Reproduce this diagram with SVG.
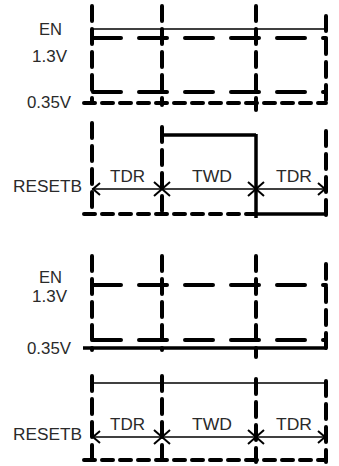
<svg xmlns="http://www.w3.org/2000/svg" width="339" height="466" viewBox="0 0 339 466">
<style>
.lbl{font-family:"Liberation Sans",Arial,sans-serif;font-size:16px;fill:#2a2a2a}
.v{stroke:#000;stroke-width:4;stroke-dasharray:15,8;stroke-linecap:round;fill:none}
.hl{stroke:#000;stroke-width:4;stroke-dasharray:28,18;stroke-linecap:round;fill:none}
.hs{stroke:#000;stroke-width:4;stroke-dasharray:11,7;stroke-linecap:round;fill:none}
.thin{stroke:#000;stroke-width:1.3;fill:none}
.solid{stroke:#000;stroke-width:3.5;fill:none}
.ah{stroke:#000;stroke-width:2;fill:none}
</style>
<rect width="339" height="466" fill="#fff"/>
<g id="connectors">
<!-- Panel 1 -->
<line class="v" x1="92" y1="6" x2="92" y2="103"/>
<line class="v" x1="162" y1="6" x2="162" y2="105"/>
<line class="v" x1="256" y1="6" x2="256" y2="110"/>
<line class="v" x1="326" y1="16" x2="326" y2="103"/>
<line class="thin" x1="92" y1="29" x2="326" y2="29" stroke-width="1.6"/>
<line class="hl" x1="93" y1="38" x2="326" y2="38"/>
<line class="hl" x1="93" y1="92" x2="326" y2="92"/>
<line class="hs" x1="84" y1="103" x2="326" y2="103"/>
<!-- Panel 2 -->
<line class="v" x1="92" y1="123" x2="92" y2="215"/>
<line class="v" x1="162" y1="127" x2="162" y2="215"/>
<line class="solid" x1="256" y1="134" x2="256" y2="218" stroke-width="3"/>
<line class="v" x1="326" y1="131" x2="326" y2="218"/>
<polyline class="solid" points="162,135 256,135" stroke-width="2.5"/>
<line class="hs" x1="84" y1="214" x2="256" y2="214"/>
<line class="solid" x1="256" y1="214" x2="327" y2="214"/>
<line class="thin" x1="92" y1="189" x2="326" y2="189"/>
<polyline class="ah" points="100,183 93,189 100,195"/>
<polyline class="ah" points="154,182 162,189 154,196"/>
<polyline class="ah" points="170,182 162,189 170,196"/>
<polyline class="ah" points="248,182 256,189 248,196"/>
<polyline class="ah" points="264,182 256,189 264,196"/>
<polyline class="ah" points="318,183 325,189 318,195"/>
<!-- Panel 3 -->
<line class="v" x1="92" y1="256" x2="92" y2="350"/>
<line class="v" x1="162" y1="256" x2="162" y2="350"/>
<line class="v" x1="256" y1="256" x2="256" y2="357"/>
<line class="v" x1="326" y1="264" x2="326" y2="350"/>
<line class="hl" x1="93" y1="285" x2="326" y2="285"/>
<line class="hl" x1="93" y1="340" x2="326" y2="340"/>
<line class="solid" x1="83" y1="348" x2="327" y2="348" stroke-width="4"/>
<!-- Panel 4 -->
<line class="v" x1="92" y1="376" x2="92" y2="462"/>
<line class="v" x1="162" y1="376" x2="162" y2="462"/>
<line class="v" x1="256" y1="379" x2="256" y2="462"/>
<line class="v" x1="326" y1="381" x2="326" y2="462"/>
<line class="thin" x1="92" y1="383" x2="326" y2="383" stroke-width="1.8"/>
<line class="hs" x1="84" y1="460" x2="326" y2="460"/>
<line class="thin" x1="92" y1="437" x2="326" y2="437"/>
<polyline class="ah" points="100,431 93,437 100,443"/>
<polyline class="ah" points="154,430 162,437 154,444"/>
<polyline class="ah" points="170,430 162,437 170,444"/>
<polyline class="ah" points="248,430 256,437 248,444"/>
<polyline class="ah" points="264,430 256,437 264,444"/>
<polyline class="ah" points="318,431 325,437 318,443"/>
</g>
<g id="labels1">
<text class="lbl" x="39" y="35" textLength="23" lengthAdjust="spacingAndGlyphs">EN</text>
<text class="lbl" x="32" y="62" textLength="35" lengthAdjust="spacingAndGlyphs">1.3V</text>
<text class="lbl" x="27" y="108" textLength="44" lengthAdjust="spacingAndGlyphs">0.35V</text>
</g>
<g id="labels2">
<text class="lbl" x="13" y="192" textLength="69" lengthAdjust="spacingAndGlyphs">RESETB</text>
<text class="lbl" x="110" y="182" textLength="35" lengthAdjust="spacingAndGlyphs">TDR</text>
<text class="lbl" x="192" y="182" textLength="40" lengthAdjust="spacingAndGlyphs">TWD</text>
<text class="lbl" x="276" y="182" textLength="36" lengthAdjust="spacingAndGlyphs">TDR</text>
</g>
<g id="labels3">
<text class="lbl" x="39" y="283" textLength="23" lengthAdjust="spacingAndGlyphs">EN</text>
<text class="lbl" x="32" y="302" textLength="35" lengthAdjust="spacingAndGlyphs">1.3V</text>
<text class="lbl" x="27" y="354" textLength="44" lengthAdjust="spacingAndGlyphs">0.35V</text>
</g>
<g id="labels4">
<text class="lbl" x="13" y="440" textLength="69" lengthAdjust="spacingAndGlyphs">RESETB</text>
<text class="lbl" x="110" y="430" textLength="35" lengthAdjust="spacingAndGlyphs">TDR</text>
<text class="lbl" x="192" y="430" textLength="40" lengthAdjust="spacingAndGlyphs">TWD</text>
<text class="lbl" x="276" y="430" textLength="36" lengthAdjust="spacingAndGlyphs">TDR</text>
</g>
</svg>
